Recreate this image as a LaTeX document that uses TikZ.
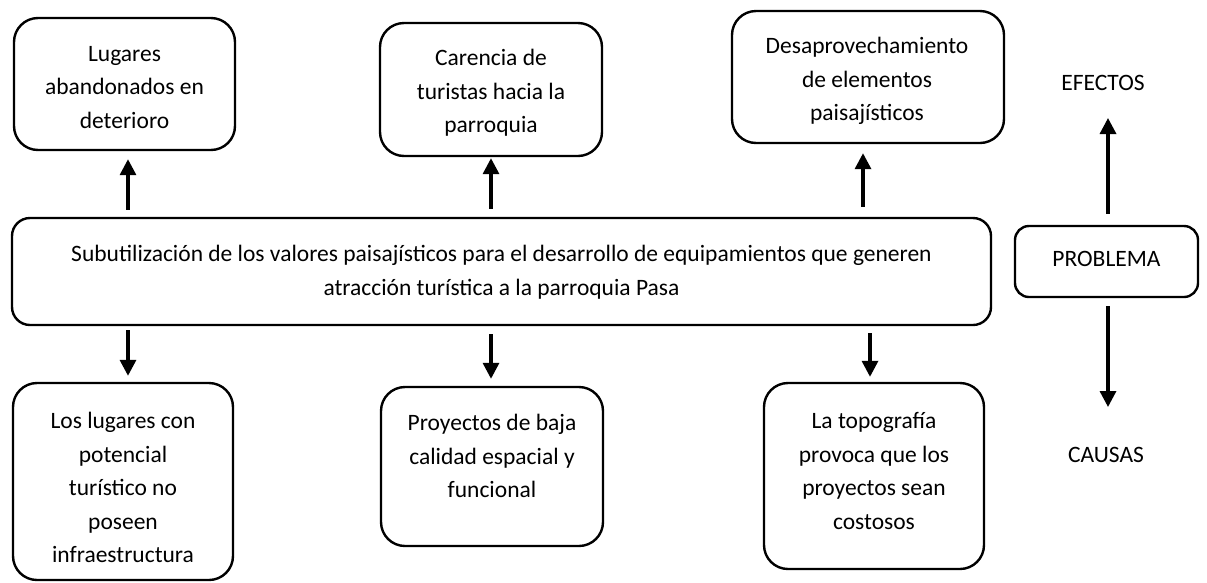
\documentclass[tikz,border=0pt]{standalone}
\usepackage{fontspec}
\setmainfont{Carlito}
\usetikzlibrary{arrows.meta}
\begin{document}
\begin{tikzpicture}[x=1pt,y=-1pt,
  box/.style={draw, line width=2.4pt, rounded corners=24pt, inner sep=0pt},
  txt/.style={align=center, font=\fontsize{23.5}{33.5}\selectfont, inner sep=0pt},
  arr/.style={line width=3.3pt, -{Triangle[length=16pt,width=16pt]}}]
\useasboundingbox (0,0) rectangle (1207,582);
\clip (0,0) rectangle (1207,582);
% effects
\node[box, minimum width=221pt, minimum height=132pt] (tl) at (124.5,84) {};
\node[txt] (tlt) at (124.5,87.5) {Lugares\\abandonados en\\deterioro};
\node[box, minimum width=222pt, minimum height=133pt] (tm) at (491,89.5) {};
\node[txt] (tmt) at (491,93) {Carencia de\\turistas hacia la\\parroquia};
\node[box, minimum width=272pt, minimum height=132pt] (tr) at (868,77) {};
\node[txt] (trt) at (867,81) {Desaprovechamiento\\de elementos\\paisajísticos};
% problem
\node[box, rounded corners=18pt, minimum width=979pt, minimum height=107pt] (main) at (501.5,271.5) {};
\node[txt] (maint) at (501.5,272) {Subutilización de los valores paisajísticos para el desarrollo de equipamientos que generen\\atracción turística a la parroquia Pasa};
% causes
\node[box, minimum width=220pt, minimum height=197pt] (bl) at (123,481.5) {};
\node[txt] (blt) at (123,487.5) {Los lugares con\\potencial\\turístico no\\poseen\\infraestructura};
\node[box, minimum width=222pt, minimum height=159pt] (bm) at (492,466.5) {};
\node[txt] (bmt) at (492,456) {Proyectos de baja\\calidad espacial y\\funcional};
\node[box, minimum width=220pt, minimum height=186pt] (br) at (874,476) {};
\node[txt] (brt) at (874,471) {La topografía\\provoca que los\\proyectos sean\\costosos};
% legend
\node[box, rounded corners=14pt, minimum width=183pt, minimum height=71pt] (prob) at (1106.5,261.5) {};
\node[txt] (probt) at (1106.5,259) {PROBLEMA};
\node[txt] (efectos) at (1103,83) {EFECTOS};
\node[txt] (causas) at (1106,455) {CAUSAS};
\coordinate (eftip) at (1108,118);
\coordinate (catip) at (1108,407);
% arrows
\draw[arr, shorten <=7pt, shorten >=8pt] (128,0 |- main.north) -- (128,0 |- tl.south);
\draw[arr, shorten <=8pt, shorten >=1pt] (491,0 |- main.north) -- (491,0 |- tm.south);
\draw[arr, shorten <=10pt, shorten >=9pt] (863,0 |- main.north) -- (863,0 |- tr.south);
\draw[arr, shorten <=4pt, shorten >=6pt] (128,0 |- main.south) -- (128,0 |- bl.north);
\draw[arr, shorten <=8pt, shorten >=7pt] (491,0 |- main.south) -- (491,0 |- bm.north);
\draw[arr, shorten <=7pt, shorten >=5pt] (870,0 |- main.south) -- (870,0 |- br.north);
\draw[arr, shorten <=11pt] (1108,0 |- prob.north) -- (eftip);
\draw[arr, shorten <=8pt] (1108,0 |- prob.south) -- (catip);
\end{tikzpicture}
\end{document}
